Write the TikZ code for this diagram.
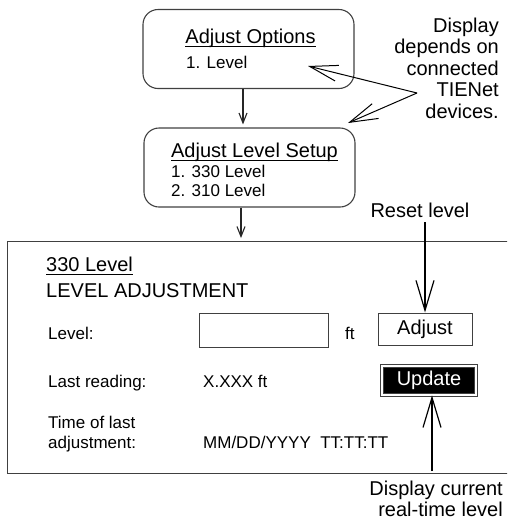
\documentclass[tikz,border=0pt]{standalone}
\usepackage{fontspec}
\setmainfont{Liberation Sans}
\usetikzlibrary{arrows.meta,positioning}
\newcommand{\ulined}[1]{\setbox0\hbox{#1}\rlap{\rule[-3.5pt]{\wd0}{0.9pt}}\box0}

\begin{document}
\begin{tikzpicture}[x=1pt, y=-1pt,
    bigtext/.style={font=\fontsize{20}{21.6}\selectfont},
    smalltext/.style={font=\fontsize{17}{20}\selectfont},
    txt/.style={inner sep=0pt, anchor=base west},
    menu/.style={draw=black!75, line width=1.1pt, rounded corners=15pt, minimum width=211pt, minimum height=79pt},
    field/.style={draw=black!75, line width=1pt, inner sep=0pt},
    flow/.style={line width=1.1pt, black!85, -{Straight Barb[length=10pt,width=8pt]}, shorten >=3pt},
    callout/.style={line width=1pt, -{Straight Barb[length=28pt,width=16pt]}},
    pointer/.style={line width=2.2pt, -{Straight Barb[length=30pt,width=18pt,line width=1.2pt]}}]
    \useasboundingbox (0,0) rectangle (507,520);
    \clip (0,0) rectangle (507,520);

    \node (opts) [menu] at (248.5,49) {};
    \node (optstitle) [bigtext, inner sep=0pt, anchor=base] at (250.5,43) {\ulined{Adjust Options}};
    \node (optlevel) [smalltext, txt] at (186,68) {1. Level};

    \node (setup) [menu] at (249.5,167.5) {};
    \node (setuptitle) [bigtext, inner sep=0pt, anchor=base] at (254.5,157) {\ulined{Adjust Level Setup}};
    \node (setup330) [smalltext, txt] at (171,177) {1. 330 Level};
    \node (setup310) [smalltext, txt] at (171,196) {2. 310 Level};

    \node (devnote) [bigtext, align=right, inner sep=0pt, anchor=north east] at (499,17.4)
        {Display\\depends on\\connected\\TIENet\\devices.};
    \coordinate (fork) at (417,93);
    \coordinate (lvltip) at (308,66);
    \coordinate (setuptip) at (348,123);

    \node (panel) [draw=black!75, line width=1.3pt, minimum width=512pt, minimum height=232pt, anchor=north west] at (7,241) {};
    \node (lvltitle) [bigtext, txt] at (46,271) {\ulined{330 Level}};
    \node (lvladj) [bigtext, txt] at (46,297) {LEVEL ADJUSTMENT};

    \node (levellbl) [smalltext, txt] at (48,339) {Level:};
    \node (levelfield) [field, minimum width=129pt, minimum height=34pt] at (263.5,330) {};
    \node (ftunit) [smalltext, txt] at (345,339) {ft};
    \node (adjust) [field, bigtext, minimum width=94pt, minimum height=32pt] at (425,329) {Adjust};

    \node (lastlbl) [smalltext, txt] at (48,387) {Last reading:};
    \node (lastval) [smalltext, txt] at (203,387) {X.XXX ft};
    \node (update) [bigtext, text=white, fill=black, draw=black!75, double=white, double distance=2.5pt, line width=0.8pt,
        minimum width=94pt, minimum height=29pt, inner sep=0pt] at (429,380.5) {Update};

    \node (timelbl) [smalltext, txt] at (48,428) {Time of last};
    \node (timelbl2) [smalltext, txt] at (48,448) {adjustment:};
    \node (timeval) [smalltext, txt] at (203,448) {MM/DD/YYYY~~TT:TT:TT};

    \node (reset) [bigtext, inner sep=0pt, anchor=base] at (420,217) {Reset level};
    \node (nowlbl) [bigtext, align=right, inner sep=0pt, anchor=north east] at (503,480.5)
        {Display current\\real-time level};
    \coordinate (nowfoot) at (432,471);

    \draw[flow] ([xshift=-5.5pt]opts.south) -- ([xshift=-5.5pt]opts.south |- setup.north);
    \draw[flow] ([xshift=-8.5pt]setup.south) -- ([xshift=-8.5pt]setup.south |- panel.north);
    \draw[callout] (fork) -- (lvltip);
    \draw[callout] (fork) -- (setuptip);
    \draw[pointer, shorten <=5pt] (reset.south -| adjust.north) -- (adjust.north);
    \draw[pointer] (nowfoot) -- (nowfoot |- update.south);
\end{tikzpicture}
\end{document}
